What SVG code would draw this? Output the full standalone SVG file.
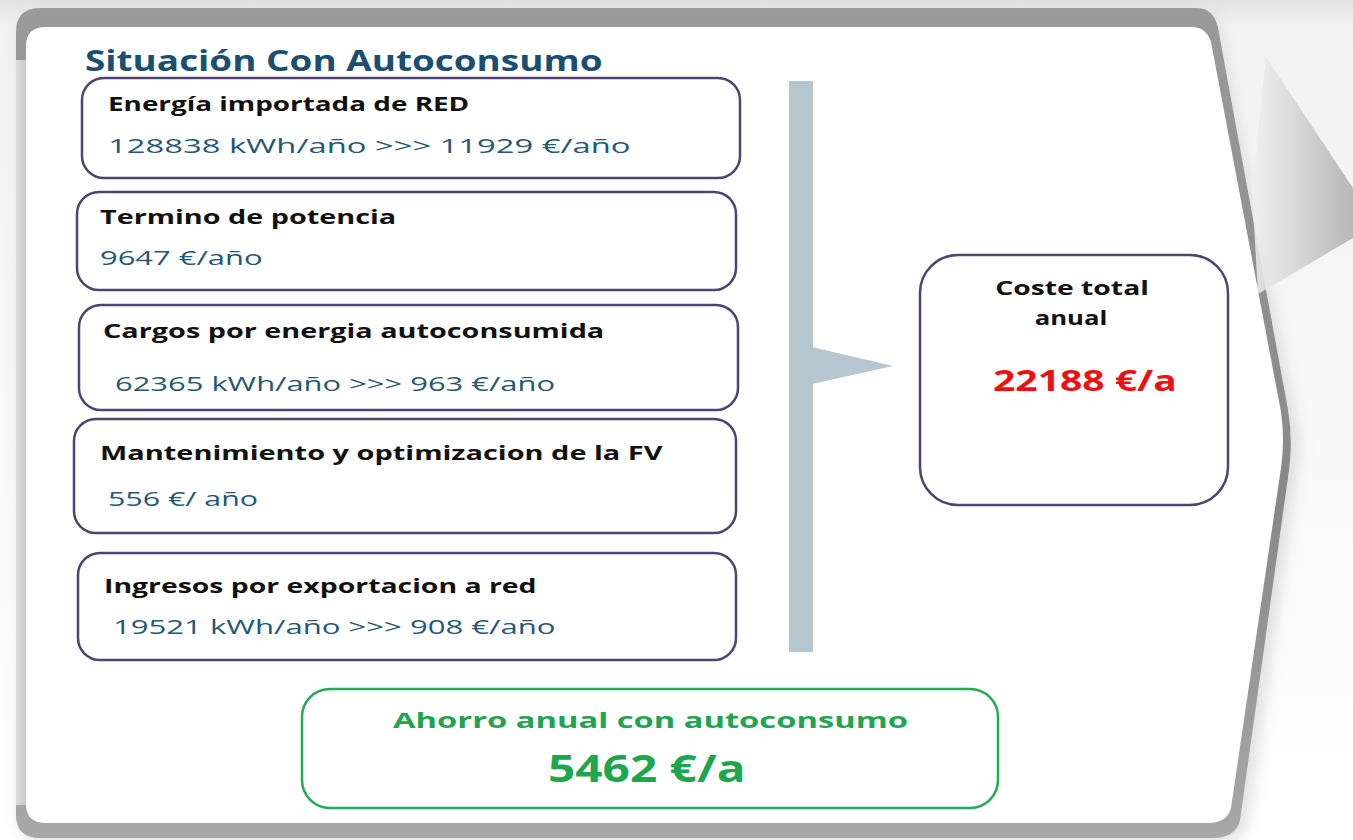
<svg xmlns="http://www.w3.org/2000/svg" width="1353" height="840" viewBox="0 0 1353 840">
<defs>
<style>
.box{fill:#fff;stroke:#4f4470;stroke-width:2.5}
.lbl{font-family:"Open Sans","Liberation Sans",sans-serif;font-weight:bold;font-size:20px;fill:#111}
.val{font-family:"Open Sans","Liberation Sans",sans-serif;font-size:20px;fill:#245778}
.ttl{font-family:"Open Sans","Liberation Sans",sans-serif;font-weight:bold;font-size:29px;fill:#1a4f72}
.grn{font-family:"Open Sans","Liberation Sans",sans-serif;font-weight:bold;fill:#1ea64f}
</style>
<linearGradient id="bg" x1="0" y1="0" x2="0" y2="1">
<stop offset="0" stop-color="#e2e2e2"/><stop offset="0.03" stop-color="#f2f2f2"/><stop offset="1" stop-color="#ffffff"/>
</linearGradient>
<linearGradient id="leftg" x1="0" y1="0" x2="1" y2="0">
<stop offset="0" stop-color="#dcdcdc"/><stop offset="1" stop-color="#cacaca"/>
</linearGradient>
<linearGradient id="topg" x1="0" y1="0" x2="0" y2="1">
<stop offset="0" stop-color="#9a9a9a"/><stop offset="0.6" stop-color="#888888"/><stop offset="1" stop-color="#a8a8a8"/>
</linearGradient>
<linearGradient id="curl" x1="0" y1="0" x2="1" y2="0">
<stop offset="0" stop-color="#f0f0f0"/><stop offset="0.45" stop-color="#d2d2d2"/><stop offset="1" stop-color="#acacac"/>
</linearGradient>
<filter id="sh" x="-5%" y="-5%" width="110%" height="110%">
<feGaussianBlur stdDeviation="7"/>
</filter>
</defs>
<rect x="0" y="0" width="1353" height="840" fill="url(#bg)"/>
<g id="frame-panel">
<path d="M40,12 L1198,12 Q1216,12 1220,32 L1296,420 Q1302,445 1297,470 L1248,822 Q1243,842 1220,842 L40,842 Q20,842 20,820 L20,34 Q20,12 40,12 Z" fill="#c4c4c4" opacity="0.5" filter="url(#sh)"/>
<path d="M40,8 L1196,8 Q1214,8 1218,28 L1288,410 Q1293,440 1289,470 L1240,820 Q1236,838 1212,838 L40,838 Q16,838 16,815 L16,32 Q16,8 40,8 Z" fill="url(#topg)"/>
<path d="M16,60 L26,60 L26,805 L16,805 Z" fill="url(#leftg)"/>
<path d="M46,27 L1192,27 Q1206,27 1211,42 L1281,412 Q1285,440 1281,468 L1231,808 Q1227,823 1208,823 L46,823 Q26,823 26,804 L26,46 Q26,27 46,27 Z" fill="#ffffff"/>
<polygon points="1266,57 1353,188 1353,238 1258,294 1252,190" fill="url(#curl)" opacity="0.85"/>
</g>
<text class="ttl" transform="matrix(1.25,0,0,1,85,71)" textLength="414" lengthAdjust="spacingAndGlyphs">Situación Con Autoconsumo</text>
<g id="connectors">
<rect x="789" y="81" width="24" height="571" fill="#b5c6ce"/>
<polygon points="812,347 893,366 812,384" fill="#b5c6ce"/>
</g>
<g id="n-energia">
<rect class="box" x="82" y="78" width="658" height="100" rx="22"/>
<text class="lbl" transform="matrix(1.25,0,0,1,108,111)" textLength="289" lengthAdjust="spacingAndGlyphs">Energía importada de RED</text>
<text class="val" transform="matrix(1.25,0,0,1,108,153)" textLength="418" lengthAdjust="spacingAndGlyphs">128838 kWh/año  &gt;&gt;&gt; 11929 €/año</text>
</g>
<g id="n-potencia">
<rect class="box" x="77" y="192" width="659" height="98" rx="22"/>
<text class="lbl" transform="matrix(1.25,0,0,1,100,224)" textLength="237" lengthAdjust="spacingAndGlyphs">Termino de potencia</text>
<text class="val" transform="matrix(1.25,0,0,1,100,265)" textLength="130" lengthAdjust="spacingAndGlyphs">9647 €/año</text>
</g>
<g id="n-cargos">
<rect class="box" x="79" y="305" width="659" height="105" rx="22"/>
<text class="lbl" transform="matrix(1.25,0,0,1,103,338)" textLength="401" lengthAdjust="spacingAndGlyphs">Cargos por energia autoconsumida</text>
<text class="val" transform="matrix(1.25,0,0,1,115,391)" textLength="352" lengthAdjust="spacingAndGlyphs">62365 kWh/año  &gt;&gt;&gt; 963 €/año</text>
</g>
<g id="n-mantenimiento">
<rect class="box" x="74" y="419" width="662" height="114" rx="22"/>
<text class="lbl" transform="matrix(1.25,0,0,1,100,460)" textLength="450" lengthAdjust="spacingAndGlyphs">Mantenimiento y optimizacion de la FV</text>
<text class="val" transform="matrix(1.25,0,0,1,108,506)" textLength="120" lengthAdjust="spacingAndGlyphs">556 €/ año</text>
</g>
<g id="n-ingresos">
<rect class="box" x="78" y="553" width="658" height="107" rx="22"/>
<text class="lbl" transform="matrix(1.25,0,0,1,104,593)" textLength="346" lengthAdjust="spacingAndGlyphs">Ingresos por exportacion a red</text>
<text class="val" transform="matrix(1.25,0,0,1,113,634)" textLength="354" lengthAdjust="spacingAndGlyphs">19521 kWh/año  &gt;&gt;&gt; 908 €/año</text>
</g>
<g id="n-coste">
<rect class="box" x="920" y="255" width="308" height="250" rx="38"/>
<text class="lbl" transform="matrix(1.25,0,0,1,1072,295)" text-anchor="middle" textLength="123" lengthAdjust="spacingAndGlyphs">Coste total</text>
<text class="lbl" transform="matrix(1.25,0,0,1,1071,325)" text-anchor="middle" textLength="58" lengthAdjust="spacingAndGlyphs">anual</text>
<text transform="matrix(1.25,0,0,1,993,391)" textLength="147" lengthAdjust="spacingAndGlyphs" style="font-family:'Open Sans','Liberation Sans',sans-serif;font-weight:bold;font-size:29px;fill:#ee1111">22188 €/a</text>
</g>
<g id="n-ahorro">
<rect x="302" y="689" width="696" height="119" rx="28" fill="#fff" stroke="#22aa55" stroke-width="2.5"/>
<text class="grn" transform="matrix(1.25,0,0,1,393,728)" font-size="22" textLength="412" lengthAdjust="spacingAndGlyphs">Ahorro anual con autoconsumo</text>
<text class="grn" transform="matrix(1.25,0,0,1,548,782)" font-size="37" textLength="158" lengthAdjust="spacingAndGlyphs">5462 €/a</text>
</g>
</svg>
